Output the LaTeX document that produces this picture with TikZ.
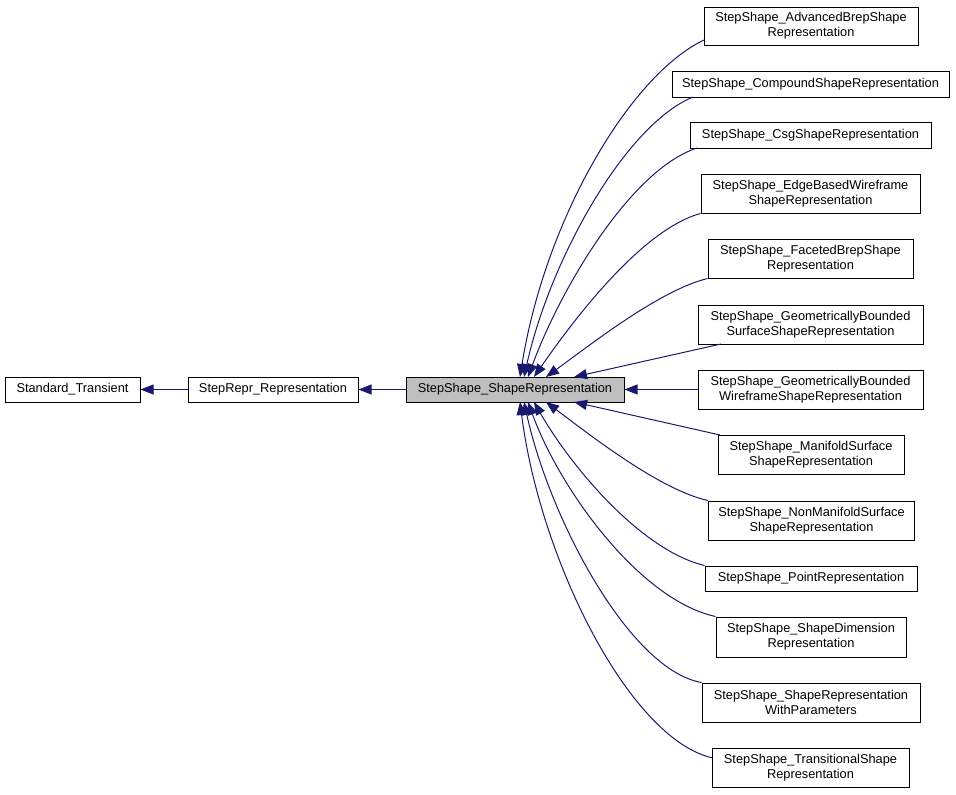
\documentclass[tikz,border=0pt]{standalone}
\usepackage{fontspec}
\setmainfont{Liberation Sans}
\usetikzlibrary{arrows.meta}
\definecolor{edgec}{HTML}{191970}
\begin{document}
\begin{tikzpicture}[x=1pt,y=-1pt,
  box/.style={draw=black,line width=1pt,fill=white,inner sep=0pt,align=center,font=\fontsize{12.8}{15}\selectfont},
  gbox/.style={box,fill=black!25},
  edge/.style={draw=edgec,line width=1pt,-{Triangle[length=13pt,width=10pt]}}]
\useasboundingbox (0,0) rectangle (956,795);
\node[box,minimum width=135,minimum height=25] (st) at (72.5,389.5) {Standard\_Transient};
\node[box,minimum width=170,minimum height=25] (sr) at (273,389.5) {StepRepr\_Representation};
\node[gbox,minimum width=218,minimum height=25] (ssr) at (515,389.5) {StepShape\_ShapeRepresentation};
\node[box,minimum width=214,minimum height=38] (adv) at (811,26) {StepShape\_AdvancedBrepShape\\Representation};
\node[box,minimum width=277,minimum height=26] (comp) at (810.5,84) {StepShape\_CompoundShapeRepresentation};
\node[box,minimum width=241,minimum height=26] (csg) at (810.5,135) {StepShape\_CsgShapeRepresentation};
\node[box,minimum width=219,minimum height=39] (edgeb) at (810.5,193.5) {StepShape\_EdgeBasedWireframe\\ShapeRepresentation};
\node[box,minimum width=205,minimum height=39] (fac) at (810.5,258.5) {StepShape\_FacetedBrepShape\\Representation};
\node[box,minimum width=225,minimum height=39] (gbs) at (810.5,324.5) {StepShape\_GeometricallyBounded\\SurfaceShapeRepresentation};
\node[box,minimum width=225,minimum height=39] (gbw) at (810.5,389.5) {StepShape\_GeometricallyBounded\\WireframeShapeRepresentation};
\node[box,minimum width=186,minimum height=39] (man) at (811,454.5) {StepShape\_ManifoldSurface\\ShapeRepresentation};
\node[box,minimum width=206,minimum height=39] (nonm) at (811.5,520.5) {StepShape\_NonManifoldSurface\\ShapeRepresentation};
\node[box,minimum width=212,minimum height=25] (pt) at (811,578.5) {StepShape\_PointRepresentation};
\node[box,minimum width=190,minimum height=40] (sdim) at (811,637) {StepShape\_ShapeDimension\\Representation};
\node[box,minimum width=218,minimum height=39] (wp) at (811,702.5) {StepShape\_ShapeRepresentation\\WithParameters};
\node[box,minimum width=197,minimum height=39] (tr) at (810.5,767.5) {StepShape\_TransitionalShape\\Representation};
% tips
\coordinate (t1) at (520,377);
\coordinate (t2) at (524,377);
\coordinate (t3) at (528,377);
\coordinate (t4) at (534,377);
\coordinate (t5) at (546,377);
\coordinate (t6) at (574,377);
\coordinate (b1) at (574,402);
\coordinate (b2) at (546,402);
\coordinate (b3) at (534,402);
\coordinate (b4) at (528,402);
\coordinate (b5) at (524,402);
\coordinate (b6) at (520,402);
\coordinate (s1) at (704,40);
\coordinate (s2) at (693,97);
\coordinate (s3) at (697,148);
\coordinate (s4) at (721,344);
\coordinate (s5) at (720,435);
\coordinate (s6) at (713,758);
\draw[edge] (sr) -- (st);
\draw[edge] (ssr) -- (sr);
\draw[edge] (gbw) -- (ssr);
\draw[edge] (s1) .. controls (630,75) and (545,220) .. (t1);
\draw[edge] (s2) .. controls (625,125) and (550,260) .. (t2);
\draw[edge] (s3) .. controls (630,170) and (560,290) .. (t3);
\draw[edge] (edgeb.south west) .. controls (640,230) and (570,325) .. (t4);
\draw[edge] (fac.south west) .. controls (660,290) and (590,345) .. (t5);
\draw[edge] (s4) -- (t6);
\draw[edge] (s5) -- (b1);
\draw[edge] (nonm.north west) .. controls (660,490) and (590,435) .. (b2);
\draw[edge] (pt.north west) .. controls (640,550) and (570,465) .. (b3);
\draw[edge] (sdim.north west) .. controls (640,600) and (560,490) .. (b4);
\draw[edge] (wp.north west) .. controls (630,670) and (550,520) .. (b5);
\draw[edge] (s6) .. controls (630,740) and (540,560) .. (b6);
\end{tikzpicture}
\end{document}
